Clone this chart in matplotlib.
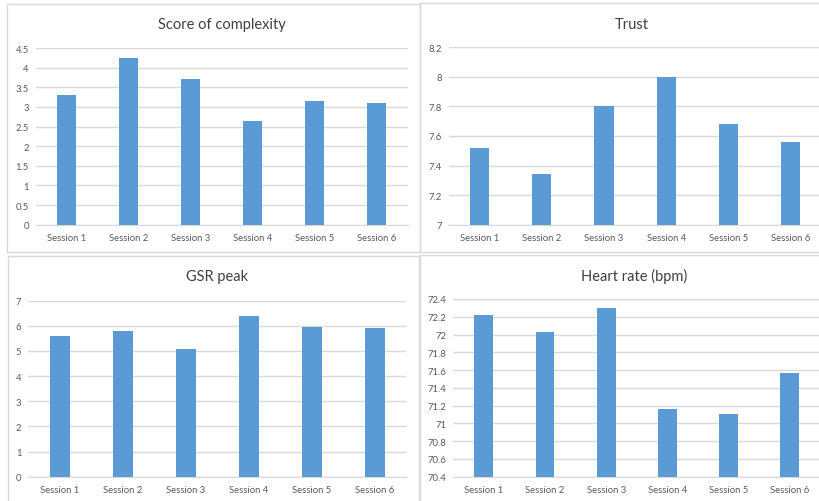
import matplotlib.pyplot as plt
from matplotlib.patches import Rectangle
from matplotlib.ticker import FuncFormatter

# valores
sessoes = ['Session 1', 'Session 2', 'Session 3', 'Session 4', 'Session 5', 'Session 6']
complexidade = [3.30, 4.24, 3.72, 2.63, 3.15, 3.09]
confianca = [7.52, 7.34, 7.80, 8.00, 7.68, 7.56]
gsr_pico = [5.60, 5.78, 5.08, 6.38, 5.97, 5.93]
freq_cardiaca = [72.22, 72.03, 72.30, 71.16, 71.11, 71.57]

titulos = ['Score of complexity', 'Trust', 'GSR peak', 'Heart rate (bpm)']
limites = [(0, 4.5, 0.5), (7, 8.2, 0.2), (0, 7, 1), (70.4, 72.4, 0.2)]

plt.rcParams['font.family'] = ['Lato', 'DejaVu Sans']

W, H = 820, 502
fig = plt.figure(figsize=(W / 100, H / 100), dpi=100)

# caixas dos painéis (px: x0, y0, x1, y1)
caixas = [(7, 5, 420, 253), (420, 4, 822, 253), (8, 257, 420, 505), (419, 256, 822, 505)]
for x0, y0, x1, y1 in caixas:
    fig.patches.append(Rectangle((x0 / W, 1 - y1 / H), (x1 - x0) / W, (y1 - y0) / H,
                                 transform=fig.transFigure, fill=False,
                                 edgecolor='#D9D9D9', lw=1))

# áreas de plotagem (px: esquerda, direita, baixo, topo)
areas = [(35.8, 407.8, 225.7, 49), (448.6, 821.6, 225.7, 48.3),
         (28.3, 406.3, 477.7, 301.7), (453.2, 820.4, 477.7, 300)]
dados = [complexidade, confianca, gsr_pico, freq_cardiaca]
titulo_y = [25, 25, 277, 276]

for i in range(4):
    l, r, b, t = areas[i]
    ax = fig.add_axes([l / W, 1 - b / H, (r - l) / W, (b - t) / H])
    lo, hi, passo = limites[i]
    base = lo
    ax.bar(range(6), [v - base for v in dados[i]], bottom=base, width=0.31,
           color='#5B9BD5', zorder=3)
    ax.set_xlim(-0.5, 5.5)
    ax.set_ylim(lo, hi)
    n = int(round((hi - lo) / passo))
    ax.set_yticks([lo + k * passo for k in range(n + 1)])
    ax.yaxis.set_major_formatter(FuncFormatter(lambda v, p: '{:g}'.format(round(v, 2))))
    ax.set_xticks(range(6))
    ax.set_xticklabels(sessoes)
    ax.grid(axis='y', color='#D9D9D9', lw=1, zorder=0)
    for lado in ['top', 'right', 'left']:
        ax.spines[lado].set_visible(False)
    ax.spines['bottom'].set_color('#D9D9D9')
    ax.tick_params(length=0, labelsize=6.8, colors='#595959')
    ax.tick_params(axis='y', pad=5)
    ax.tick_params(axis='x', pad=6)
    ax.set_facecolor('none')
    cx = (l + r) / 2 if i % 2 == 0 else (l + r) / 2 - 3
    fig.text(cx / W, 1 - titulo_y[i] / H, titulos[i], ha='center', va='center',
             fontsize=10.5, color='#404040')

plt.savefig('out.png', dpi=100)
